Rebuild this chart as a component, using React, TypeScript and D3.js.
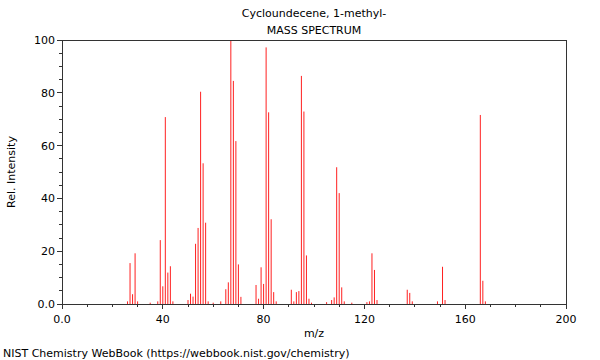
import React from "react";
// @ts-ignore
import * as d3 from "d3";

const TITLE = "Cycloundecene, 1-methyl-";
const SUBTITLE = "MASS SPECTRUM";
const FOOTER = "NIST Chemistry WebBook (https://webbook.nist.gov/chemistry)";

// m/z and relative intensity
const mzValues = [
  26, 27, 28, 29, 30, 35, 38, 39, 40, 41, 42, 43, 44,
  50, 51, 52, 53, 54, 55, 56, 57, 58, 60, 63, 65, 66, 67, 68, 69, 70, 71,
  77, 78, 79, 80, 81, 82, 83, 84, 85, 91, 92, 93, 94, 95, 96, 97, 98, 99,
  105, 107, 108, 109, 110, 111, 112, 115, 121, 122, 123, 124, 125,
  137, 138, 139, 149, 151, 152, 166, 167, 168,
];
const intensities = [
  1, 15.5, 3.7, 19.2, 1, 0.5, 1, 24.2, 6.7, 70.8, 11.9, 14.3, 1,
  1.5, 3.9, 2.8, 22.8, 28.8, 80.4, 53.3, 30.8, 1, 0.5, 1, 5.6, 8.2, 100, 84.5, 61.7, 15, 2.7,
  7.2, 2, 13.9, 7.6, 97.2, 72.6, 32.1, 4.5, 1, 5.4, 1, 4.5, 4.9, 86.4, 72.9, 18.4, 2, 0.5,
  0.7, 1.5, 2.5, 51.8, 42, 6.3, 1, 0.5, 0.7, 1, 19.2, 12.9, 1.5,
  5.4, 4.2, 1, 1, 14.1, 1.5, 71.6, 8.8, 1,
];

const xTickLabels = ["0.0", "40", "80", "120", "160", "200"];
const yTickLabels = ["0.0", "20", "40", "60", "80", "100"];

const W = 600;
const H = 360;
const M = { left: 62, right: 34, top: 40, bottom: 56 };
const FONT = "DejaVu Sans, sans-serif";

const App = () => {
  const x = d3.scaleLinear().domain([0, 200]).range([M.left, W - M.right]);
  const y = d3.scaleLinear().domain([0, 100]).range([H - M.bottom, M.top]);
  const axisColor = "#333";

  const xMinor = d3.range(0, 201, 10);
  const yMinor = d3.range(0, 101, 5);
  const xMajor = d3.range(0, 201, 40);
  const yMajor = d3.range(0, 101, 20);

  return (
    <svg width={W} height={H} style={{ position: "absolute", left: 0, top: 0 }} fontFamily={FONT}>
      <text x={314} y={17} textAnchor="middle" fontSize={11}>{TITLE}</text>
      <text x={314} y={34} textAnchor="middle" fontSize={11}>{SUBTITLE}</text>

      {/* peaks */}
      <g stroke="#ff2020" strokeWidth={1}>
        {mzValues.map((mz, i) => (
          <line key={mz} x1={x(mz)} x2={x(mz)} y1={y(0)} y2={y(intensities[i])} />
        ))}
      </g>

      {/* frame */}
      <rect x={M.left} y={M.top} width={x(200) - M.left} height={y(0) - M.top}
        fill="none" stroke={axisColor} strokeWidth={1} shapeRendering="crispEdges" />

      {/* x ticks */}
      <g stroke={axisColor} shapeRendering="crispEdges">
        {xMinor.map((v) => (
          <line key={"xm" + v} x1={x(v)} x2={x(v)} y1={y(0)} y2={y(0) + (v % 40 === 0 ? 5 : 3)} />
        ))}
        {yMinor.map((v) => (
          <line key={"ym" + v} x1={M.left} x2={M.left - (v % 20 === 0 ? 5 : 3)} y1={y(v)} y2={y(v)} />
        ))}
      </g>
      <g fontSize={11} fill="#000">
        {xMajor.map((v, i) => (
          <text key={"xl" + v} x={x(v)} y={y(0) + 19} textAnchor="middle">{xTickLabels[i]}</text>
        ))}
        {yMajor.map((v, i) => (
          <text key={"yl" + v} x={M.left - 7} y={y(v) + 4} textAnchor="end">{yTickLabels[i]}</text>
        ))}
      </g>

      <text x={314} y={337} textAnchor="middle" fontSize={11}>m/z</text>
      <text transform={`translate(15,${(M.top + y(0)) / 2}) rotate(-90)`} textAnchor="middle" fontSize={11}>
        Rel. Intensity
      </text>
      <text x={3} y={357} fontSize={11}>{FOOTER}</text>
    </svg>
  );
};

export default App;
